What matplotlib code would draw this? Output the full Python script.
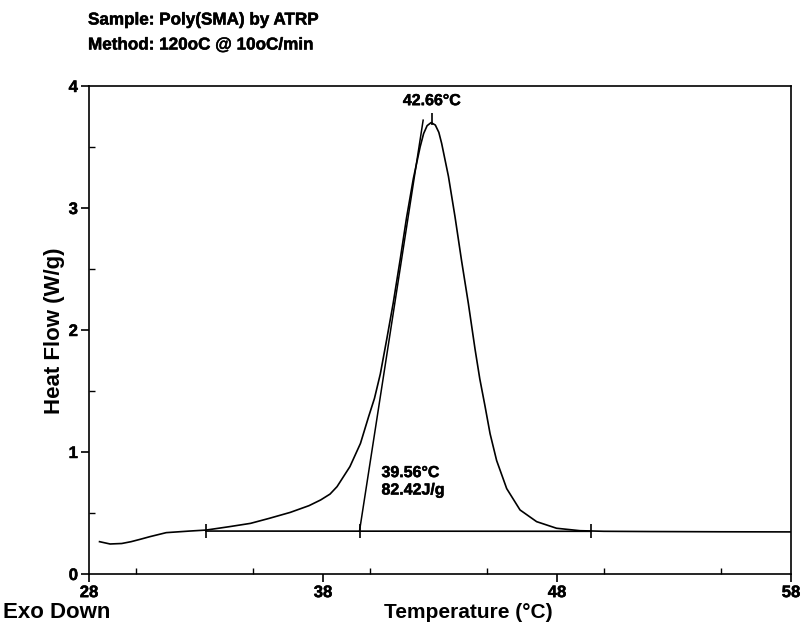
import matplotlib
matplotlib.use("Agg")
import matplotlib.pyplot as plt
from matplotlib.ticker import MultipleLocator
import matplotlib.patheffects as pe

plt.rcParams['font.family'] = ['Liberation Sans', 'DejaVu Sans']
plt.rcParams['font.weight'] = 'bold'

# DSC curve: temperature (°C) and heat flow (W/g)
temperature = [28.45, 28.9, 29.4, 29.8, 30.2, 30.6, 31.3, 32.3, 33.0, 34.0, 34.9,
               35.7, 36.6, 37.4, 37.9, 38.3, 38.6, 39.15, 39.6, 39.95, 40.2, 40.45,
               40.72, 41.0, 41.3, 41.57, 41.86, 42.15, 42.3, 42.45, 42.62, 42.8,
               42.95, 43.07, 43.36, 43.64, 43.92, 44.21, 44.5, 44.7, 44.92, 45.14,
               45.42, 45.85, 46.42, 47.13, 47.98, 48.98, 50.0, 52.0, 55.0, 58.0]
heat_flow = [0.265, 0.246, 0.25, 0.265, 0.285, 0.306, 0.339, 0.352, 0.36, 0.388, 0.415,
             0.456, 0.505, 0.56, 0.607, 0.655, 0.716, 0.88, 1.07, 1.29, 1.44, 1.64,
             1.92, 2.22, 2.58, 2.92, 3.24, 3.50, 3.61, 3.675, 3.70, 3.68,
             3.62, 3.53, 3.26, 2.93, 2.57, 2.22, 1.84, 1.60, 1.38, 1.15,
             0.93, 0.70, 0.525, 0.429, 0.375, 0.355, 0.35, 0.348, 0.346, 0.345]

# Integration baseline and onset tangent
baseline_T = [33.0, 49.45]
baseline_H = [0.352, 0.350]
onset_T = [39.56, 42.28]
onset_H = [0.352, 3.72]
peak_T, peak_H = 42.66, 3.70

xticks = [28, 38, 48, 58]
yticks = [0, 1, 2, 3, 4]

thick = [pe.withStroke(linewidth=0.35, foreground='black')]

fig = plt.figure(figsize=(8.04, 6.26), dpi=100)
ax = fig.add_axes([89/804, 52/626, 702/804, 488/626])

ax.plot(temperature, heat_flow, color='black', lw=1.2)
ax.plot(baseline_T, baseline_H, color='black', lw=1.2)
ax.plot(onset_T, onset_H, color='black', lw=1.1)
ax.plot([baseline_T[0], onset_T[0], baseline_T[1]], [baseline_H[0], onset_H[0], baseline_H[1]],
        linestyle='none', marker='|', markersize=10, color='black', mew=1.2)
ax.plot([peak_T], [peak_H + 0.03], linestyle='none', marker='|', markersize=9,
        color='black', mew=1.2)

ax.text(peak_T, 3.88, '42.66°C', ha='center', va='center', fontsize=11.5,
        fontweight='bold', path_effects=thick)
ax.text(40.5, 0.76, '39.56°C\n82.42J/g', ha='left', va='center', fontsize=11.5,
        fontweight='bold', linespacing=1.2, path_effects=thick)

ax.set_xlim(28, 58)
ax.set_ylim(0, 4)
ax.set_xticks(xticks)
ax.set_yticks(yticks)
ax.xaxis.set_minor_locator(MultipleLocator(5))
ax.yaxis.set_minor_locator(MultipleLocator(0.5))
ax.tick_params(which='major', direction='out', length=6, width=1.2, labelsize=12, pad=2)
ax.tick_params(which='minor', direction='in', length=4, width=1.0)
for lab in ax.get_xticklabels() + ax.get_yticklabels():
    lab.set_fontweight('bold')
    lab.set_path_effects(thick)
for s in ax.spines.values():
    s.set_linewidth(1.2)

fig.text(88/804, 1 - 20/626, 'Sample: Poly(SMA) by ATRP', ha='left', va='center',
         fontsize=12.3, fontweight='bold', path_effects=thick)
fig.text(88/804, 1 - 45/626, 'Method: 120oC @ 10oC/min', ha='left', va='center',
         fontsize=12.3, fontweight='bold', path_effects=thick)
fig.text(468/804, 1 - 612/626, 'Temperature (°C)', ha='center', va='center',
         fontsize=15, fontweight='bold')
fig.text(3/804, 1 - 612/626, 'Exo Down', ha='left', va='center',
         fontsize=16, fontweight='bold')
fig.text(55/804, 1 - 331/626, 'Heat Flow (W/g)', ha='center', va='center',
         rotation=90, fontsize=16, fontweight='bold')

fig.savefig('out.png', dpi=100)
